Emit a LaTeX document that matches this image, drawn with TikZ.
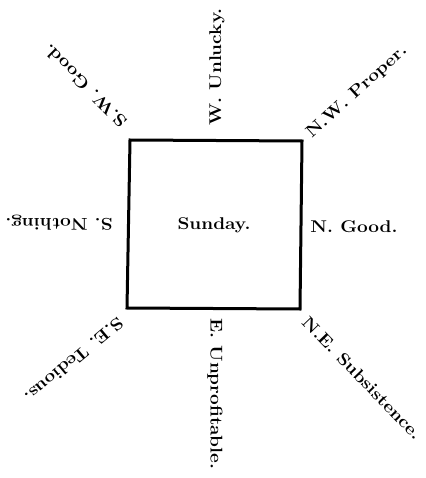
\documentclass[tikz,border=0pt]{standalone}
\usepackage{graphicx}
\newcommand{\wtxt}[1]{\scalebox{1.12}[1]{#1}}
\tikzset{
  lbl/.style={inner sep=0pt, font=\fontsize{17}{20}\selectfont\bfseries},
  frame/.style={line width=3pt, line join=miter}
}
\begin{document}
\begin{tikzpicture}[x=1pt,y=-1pt]
\useasboundingbox (0,0) rectangle (425,478);
\coordinate (tl) at (130,140);
\coordinate (tr) at (302,141);
\coordinate (br) at (300,309);
\coordinate (bl) at (127,308);
\draw[frame] (tl) -- (tr) -- (br) -- (bl) -- cycle;
\node[lbl] (sun) at (214,225) {\wtxt{Sunday.}};
\node[lbl, rotate=90] (w) at (217,67) {\wtxt{W. Unlucky.}};
\node[lbl, rotate=42] (nw) at (357,92) {\wtxt{N.W. Proper.}};
\node[lbl] (n) at (354,227) {\wtxt{N. Good.}};
\node[lbl, rotate=-46] (ne) at (362,378) {\wtxt{N.E. Subsistence.}};
\node[lbl, rotate=-90] (e) at (215,394) {\wtxt{E. Unprofitable.}};
\node[lbl, rotate=220] (se) at (74,360) {\wtxt{S.E. Tedious.}};
\node[lbl, rotate=180] (s) at (59,223) {\wtxt{S. Nothing.}};
\node[lbl, rotate=135] (sw) at (85,86) {\wtxt{S.W. Good.}};
\end{tikzpicture}
\end{document}
